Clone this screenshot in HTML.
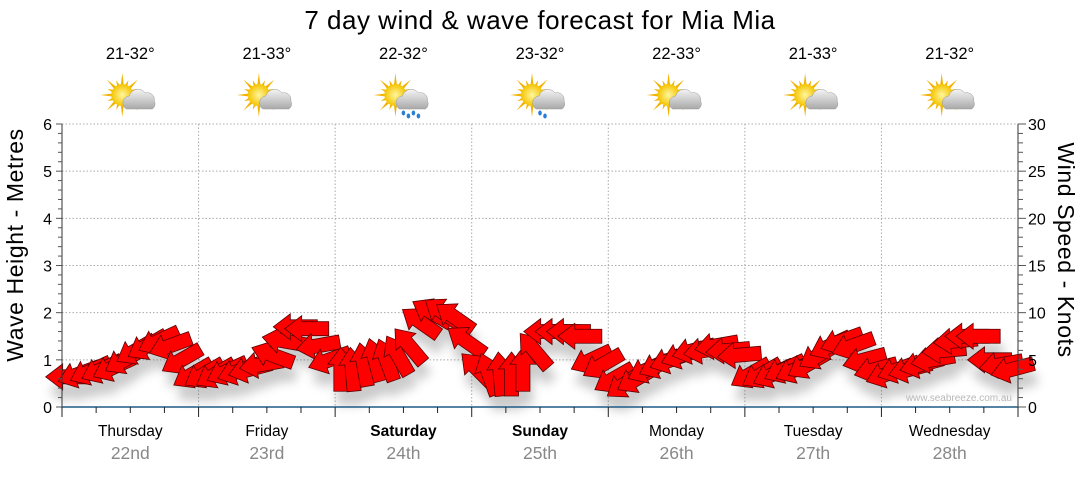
<!DOCTYPE html>
<html><head><meta charset="utf-8">
<style>
body{margin:0;background:#fff;width:1080px;height:475px;overflow:hidden;font-family:"Liberation Sans","DejaVu Sans",sans-serif}
</style></head>
<body>
<svg id="chart" width="1080" height="475" xmlns="http://www.w3.org/2000/svg" font-family="Liberation Sans, DejaVu Sans, sans-serif">
<defs>
<filter id="sh" x="-50%" y="-50%" width="200%" height="200%"><feGaussianBlur stdDeviation="5"/></filter>
<radialGradient id="sun" cx="50%" cy="50%" r="50%"><stop offset="0" stop-color="#fff7a0"/><stop offset="1" stop-color="#f5c400"/></radialGradient>
<linearGradient id="cloud" x1="0" y1="0" x2="0" y2="1"><stop offset="0" stop-color="#f4f4f4"/><stop offset="1" stop-color="#a9a9a9"/></linearGradient>
</defs>
<text x="540" y="29" text-anchor="middle" font-size="26" letter-spacing="0.5" fill="#000">7 day wind &amp; wave forecast for Mia Mia</text>
<g id="grid"></g>
<g id="shadows" filter="url(#sh)" opacity="0.3"></g>
<g id="arrows"></g>
<g id="axes"></g>
<g id="days"></g>
<text transform="translate(23,245) rotate(-90)" text-anchor="middle" font-size="23" letter-spacing="0.6" fill="#000">Wave Height - Metres</text>
<text transform="translate(1058,250) rotate(90)" text-anchor="middle" font-size="23" letter-spacing="0.6" fill="#000">Wind Speed - Knots</text>
<text x="1012" y="401" text-anchor="end" font-size="10" fill="#b8b8b8">www.seabreeze.com.au</text>
</svg>
<script>
const dayNames=["Thursday","Friday","Saturday","Sunday","Monday","Tuesday","Wednesday"];
const dayDates=["22nd","23rd","24th","25th","26th","27th","28th"];
const temps=["21-32°","21-33°","22-32°","23-32°","22-33°","21-33°","21-32°"];
const rain=[0,0,2,1,0,0,0];
const boldDays=[false,false,true,true,false,false,false];
const waveTicks=[0,1,2,3,4,5,6];
const windTicks=[0,5,10,15,20,25,30];
const windSpeed=[
3.2,3.5,3.8,4,4.2,5,6,6.5,7,6.5,5,3.5,
3.5,3.5,3.8,3.8,4,4.5,5.5,7,8.5,8.3,6.5,5,
4,4,4.5,5,5,5.5,6.5,9,10,10,9.5,7,
4,3.5,3.5,3.5,4,6,8,8,8,7.5,5,4.5,
3,2.5,3,4,4.5,5,5.5,6,6,6.5,6,5.5,
3.5,3.5,3.5,4,4,4.5,5.5,6.5,7,6.5,5,4,
3.5,4,4,4.5,5,6,7,7.5,7.5,5,4.5,4];
const windDir=[
180,160,155,155,155,150,150,150,155,160,150,150,
150,150,155,160,165,170,200,190,180,180,170,160,
270,265,260,255,250,240,230,215,210,215,215,215,
225,250,265,270,270,230,180,180,180,180,155,150,
150,145,150,155,155,160,160,165,170,170,175,175,
150,150,155,155,155,150,150,155,160,160,165,165,
160,160,165,165,170,175,175,180,180,180,170,165];

const NS="http://www.w3.org/2000/svg";
const X0=62,X1=1018,Y0=407,Y6=124;
const dayW=(X1-X0)/7;
const yM=v=>Y0-(Y0-Y6)*v/6;
const yK=v=>Y0-(Y0-Y6)*v/30;
const xH=h=>X0+dayW*h/24;
function mk(tag,attrs,parent){const e=document.createElementNS(NS,tag);for(const k in attrs)e.setAttribute(k,attrs[k]);parent.appendChild(e);return e;}
const grid=document.getElementById('grid'),axes=document.getElementById('axes'),days=document.getElementById('days');

waveTicks.forEach(v=>{if(v===0)return;const l=mk('line',{x1:X0,x2:X1,y1:yM(v),y2:yM(v),stroke:'#aaa','stroke-dasharray':'1.5,2'},grid);

});
for(let d=1;d<7;d++){const l=mk('line',{x1:X0+d*dayW,x2:X0+d*dayW,y1:Y6,y2:Y0,stroke:'#aaa','stroke-dasharray':'1.5,2'},grid);

}

const arrowPts="-22,0 -5,-13 -5,-7 22,-7 22,7 -5,7 -5,13";
const shadowG=document.getElementById('shadows'),arrowG=document.getElementById('arrows');
windSpeed.forEach((s,i)=>{const x=xH(i*2+1),y=yK(s),a=windDir[i]-180;
const sp=mk('polygon',{points:arrowPts,transform:`translate(${x+3},${y+14}) rotate(${a})`,fill:'#555'},shadowG);


const p=mk('polygon',{points:arrowPts,transform:`translate(${x},${y}) rotate(${a})`,fill:'#ff0000',stroke:'#5a0000','stroke-width':'0.8'},arrowG);

});

let l=mk('line',{x1:X0,x2:X0,y1:Y6,y2:Y0+5,stroke:'#333'},axes);


l=mk('line',{x1:X1,x2:X1,y1:Y6,y2:Y0+5,stroke:'#333'},axes);


l=mk('line',{x1:X0,x2:X1,y1:Y0,y2:Y0,stroke:'#1f5a85','stroke-width':'1.5'},axes);


for(let k=0;k<=30;k++){const y=yM(k/5);mk('line',{x1:X0-(k%5?4:6),x2:X0,y1:y,y2:y,stroke:'#555'},axes);
mk('line',{x1:X1,x2:X1+(k%5?5:8),y1:yK(k),y2:yK(k),stroke:'#555'},axes);}
waveTicks.forEach(v=>{const t=mk('text',{x:X0-10,y:yM(v)+6,'text-anchor':'end','font-size':'16',fill:'#000'},axes);t.textContent=v;

});
windTicks.forEach(v=>{const t=mk('text',{x:X1+10,y:yK(v)+6,'font-size':'16',fill:'#000'},axes);t.textContent=v;

});
for(let h=0;h<=168;h+=6){const x=xH(h);mk('line',{x1:x,x2:x,y1:Y0,y2:Y0+(h%24?6:10),stroke:'#222'},axes);}

function icon(cx,cy,r,parent){
 const g=mk('g',{},parent);
 for(let k=0;k<16;k++){const a=k*Math.PI/8,L=k%2?16:22;mk('polygon',{points:`${cx-10+Math.cos(a)*L},${cy-3+Math.sin(a)*L} ${cx-10+Math.cos(a+0.18)*9},${cy-3+Math.sin(a+0.18)*9} ${cx-10+Math.cos(a-0.18)*9},${cy-3+Math.sin(a-0.18)*9}`,fill:'#f2b200'},g);}
 mk('circle',{cx:cx-10,cy:cy-3,r:11,fill:'url(#sun)'},g);
 mk('path',{d:`M${cx-6},${cy+11} a7,7 0 0 1 3,-13 a9,9 0 0 1 16,-3 a7,7 0 0 1 9,8 a6,6 0 0 1 -2,8 z`,fill:'url(#cloud)',stroke:'#999','stroke-width':'0.5'},g);
 for(let k=0;k<r*2;k++){mk('ellipse',{cx:cx-2+k*5,cy:cy+15+(k%2)*3,rx:1.8,ry:2.5,fill:'#2a7fd4'},g);}
 return g;}
dayNames.forEach((n,d)=>{const cx=X0+(d+0.5)*dayW;
 let t=mk('text',{x:cx,y:436,'text-anchor':'middle','font-size':'15.5','font-weight':boldDays[d]?'bold':'normal',fill:'#000'},days);t.textContent=n;
 
 
 t=mk('text',{x:cx,y:459,'text-anchor':'middle','font-size':'17.5',fill:'#888'},days);t.textContent=dayDates[d];
 
 
 t=mk('text',{x:cx,y:59,'text-anchor':'middle','font-size':'16.5',fill:'#000'},days);t.textContent=temps[d];
 
 
 const g=icon(cx+2,98,rain[d],days);
 
 
});
</script>
</body></html>
